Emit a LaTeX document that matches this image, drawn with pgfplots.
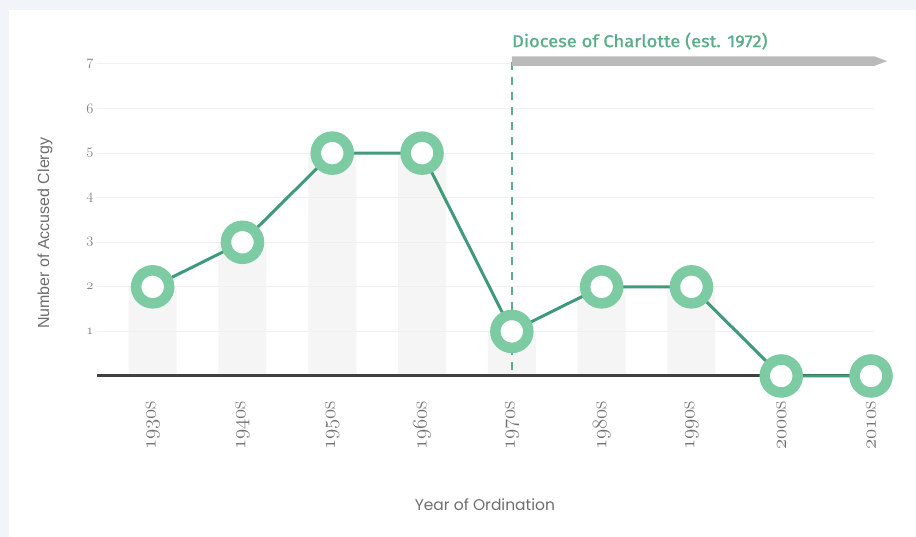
\documentclass[border=0pt]{standalone}
\usepackage{fontspec}
\usepackage{pgfplots}
\pgfplotsset{compat=1.18}
\usetikzlibrary{arrows.meta}
\newfontfamily\labfont{Liberation Sans}
\newfontfamily\roundfont{Poppins}
\newfontfamily\notefont[FakeBold=1.2]{Fira Sans}
\definecolor{bgblue}{HTML}{F1F5F9}
\definecolor{ringgreen}{HTML}{7DCBA2}
\definecolor{linegreen}{HTML}{3F9A78}
\definecolor{notegreen}{HTML}{5AAE8A}
\definecolor{bargray}{HTML}{F5F5F5}
\definecolor{gridgray}{HTML}{F0F0F0}
\definecolor{txtgray}{HTML}{6E6E6E}
% old-style figures from the math italic font
\newcommand{\osf}[1]{$\mathnormal{#1}$}

\pgfplotstableread{
x y
0 2
1 3
2 5
3 5
4 1
5 2
6 2
7 0
8 0
}\clergy

\begin{document}
\begin{tikzpicture}[x=1pt,y=1pt]
% page and white panel (1px = 1pt, origin bottom left)
\fill[bgblue] (0,0) rectangle (916,537);
\fill[white] (9,0) rectangle (916,527);
\begin{axis}[
  at={(97pt,161pt)}, anchor=south west,
  scale only axis,
  width=783pt, height=312pt,
  xmin=-0.62, xmax=8.1,
  ymin=0, ymax=7,
  axis lines=none,
  clip=false,
  xtick=\empty, ytick=\empty,
]
% background columns
\addplot[ybar, bar width=48pt, fill=bargray, draw=none, bar shift=0pt]
  table[x=x, y=y] {\clergy};
% grid lines
\foreach \v in {1,...,7} {
  \edef\tmp{\noexpand\draw[gridgray, line width=1pt] (axis cs:-0.62,\v) -- (axis cs:8.03,\v);}
  \tmp
}
% x axis line
\draw[black!75, line width=3pt] (axis cs:-0.62,0) -- (axis cs:8.0,0);
% diocese marker
\draw[notegreen, line width=1.5pt, dash pattern=on 8pt off 7pt]
  (axis cs:4,7.05) -- (axis cs:4,0);
\fill[black!27] (axis cs:4,7.17) -- (axis cs:8.04,7.17) -- (axis cs:8.18,7.065)
  -- (axis cs:8.04,6.96) -- (axis cs:4,6.96) -- cycle;
\node[anchor=south west, inner sep=0pt, text=notegreen,
  font=\notefont\fontsize{17}{20}\selectfont, xscale=1.08]
  at (axis cs:4,7.32) {Diocese of Charlotte (est. 1972)};
% data line
\addplot[linegreen, line width=3pt, mark=*,
  mark options={draw=ringgreen, fill=white, line width=10.5pt},
  mark size=16.5pt]
  table[x=x, y=y] {\clergy};
% tick labels
\foreach \v in {1,...,7} {
  \edef\tmp{\noexpand\node[anchor=east, text=black!50,
    font=\noexpand\fontsize{14}{15}\noexpand\selectfont]
    at (axis cs:-0.62,\v) {\noexpand\osf{\v}\noexpand\hspace{17pt}};}
  \tmp
}
\foreach \d [count=\i from 0] in {193,194,195,196,197,198,199,200,201} {
  \edef\tmp{\noexpand\node[rotate=90, anchor=east, text=black!55,
    font=\noexpand\fontsize{22.5}{24}\noexpand\selectfont, inner sep=0pt]
    at ([yshift=-25pt]axis cs:\i,0) {\noexpand\osf{\d0}s};}
  \tmp
}
% axis titles
\node[rotate=90, text=txtgray, font=\labfont\fontsize{16}{18}\selectfont]
  at ([xshift=-52pt]axis cs:-0.62,3.2) {Number of Accused Clergy};
\node[text=txtgray, font=\roundfont\fontsize{15.5}{18}\selectfont]
  at ([yshift=-129pt]axis cs:3.7,0) {Year of Ordination};
\end{axis}
\end{tikzpicture}
\end{document}
